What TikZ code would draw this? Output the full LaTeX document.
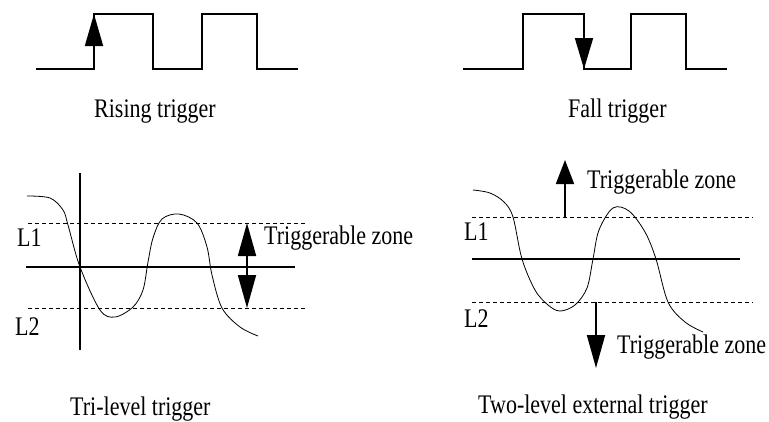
\documentclass[tikz,border=0pt]{standalone}
\usepackage{fontspec}
\setmainfont{Liberation Serif}
\usepackage{graphicx}
\usetikzlibrary{arrows.meta}
\newcommand{\tallText}[1]{\scalebox{1}[1.22]{#1}}
\tikzset{
  wave/.style={line width=2pt},
  baseline line/.style={line width=1.8pt},
  level line/.style={dash pattern=on 4pt off 3pt,line width=0.7pt},
  signal/.style={line width=0.8pt},
  caption/.style={anchor=base west,inner sep=0pt,font=\fontsize{22}{26}\selectfont},
  bigtip/.style={-{Triangle[length=#1,width=18pt]},line width=1.8pt},
  twotip/.style={{Triangle[length=#1,width=18pt]}-{Triangle[length=#1,width=18pt]},line width=1.8pt}
}

\begin{document}
\begin{tikzpicture}[x=1pt,y=-1pt]
  \useasboundingbox (0,0) rectangle (769,421);

  \draw[wave] (36,69) -- (94,69) -- (94,14) -- (153,14) -- (153,69)
    -- (202,69) -- (202,14) -- (257,14) -- (257,69) -- (298,69);
  \coordinate (riseFoot) at (94,69);
  \coordinate (riseTop) at (94,14);
  \draw[bigtip=32pt] (riseFoot) -- (riseTop);
  \node[caption] (risingLbl) at (94,117) {\tallText{Rising trigger}};

  \draw[wave] (463,69) -- (523,69) -- (523,14) -- (584,14) -- (584,69)
    -- (631,69) -- (631,14) -- (686,14) -- (686,69) -- (727,69);
  \coordinate (fallTop) at (584,14);
  \coordinate (fallFoot) at (584,69);
  \draw[bigtip=31pt] (fallTop) -- (fallFoot);
  \node[caption] (fallLbl) at (568,117) {\tallText{Fall trigger}};

  \draw[baseline line] (80,173) -- (80,350);
  \draw[baseline line] (26,267) -- (295,267);
  \draw[level line] (28,223) -- (307,223);
  \draw[level line] (28,308) -- (307,308);
  \draw[signal] plot[smooth,tension=0.55] coordinates {
    (27,196) (50,198) (63,210) (68,225) (80,267) (100,310) (115,317)
    (133,307) (143,290) (148,262) (153,238) (162,219) (179,214)
    (197,223) (207,247) (212,275) (222,308) (240,327) (258,336)};
  \node[caption] (triL1) at (17,246) {\tallText{L1}};
  \node[caption] (triL2) at (15,335) {\tallText{L2}};
  \coordinate (zoneTop) at (247,223);
  \coordinate (zoneBot) at (247,308);
  \draw[twotip=33pt] (zoneTop) -- (zoneBot);
  \node[caption] (triZone) at (264,244) {\tallText{Triggerable zone}};
  \node[caption] (triLbl) at (70,415) {\tallText{Tri-level trigger}};

  \draw[baseline line] (472,259) -- (740,259);
  \draw[level line] (472,217) -- (753,217);
  \draw[level line] (472,302) -- (753,302);
  \draw[signal] plot[smooth,tension=0.55] coordinates {
    (473,190) (490,193) (504,202) (513,217) (522,259) (535,290) (548,305)
    (560,311) (575,305) (587,288) (593,259) (599,230) (613,208)
    (629,211) (645,232) (656,259) (668,302) (685,322) (703,332)};
  \node[caption] (twoL1) at (464,240) {\tallText{L1}};
  \node[caption] (twoL2) at (464,327) {\tallText{L2}};
  \coordinate (upFoot) at (565,217);
  \coordinate (upTip) at (565,160);
  \draw[bigtip=24pt] (upFoot) -- (upTip);
  \node[caption] (upZone) at (587,188) {\tallText{Triggerable zone}};
  \coordinate (downFoot) at (596,302);
  \coordinate (downTip) at (596,368);
  \draw[bigtip=33pt] (downFoot) -- (downTip);
  \node[caption] (downZone) at (617,353) {\tallText{Triggerable zone}};
  \node[caption] (twoLbl) at (478,413) {\tallText{Two-level external trigger}};
\end{tikzpicture}
\end{document}
